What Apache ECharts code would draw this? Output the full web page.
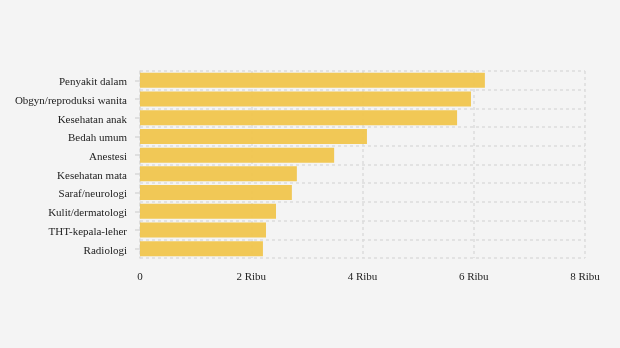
<!DOCTYPE html>
<html>
<head>
<meta charset="utf-8">
<style>
html,body{margin:0;padding:0;background:#f4f4f4;}
#chart{width:620px;height:348px;}
</style>
<script src="https://cdn.jsdelivr.net/npm/echarts@6/dist/echarts.min.js"></script>
</head>
<body>
<div id="chart"></div>
<script>
var categories = ["Penyakit dalam","Obgyn/reproduksi wanita","Kesehatan anak","Bedah umum","Anestesi","Kesehatan mata","Saraf/neurologi","Kulit/dermatologi","THT-kepala-leher","Radiologi"];
var values = [6200, 5950, 5700, 4080, 3490, 2820, 2730, 2445, 2265, 2210];
var xTicks = [0, 2000, 4000, 6000, 8000];

var chart = echarts.init(document.getElementById('chart'));
var grid = {color:'#dcdcdc', width:1.5, type:[3,3]};
chart.setOption({
  backgroundColor:'#f4f4f4',
  animation:false,
  grid:{left:140, right:35, top:71, bottom:90, show:false},
  xAxis:{
    type:'value', min:xTicks[0], max:xTicks[xTicks.length-1], interval:2000,
    axisLine:{show:false}, axisTick:{show:false},
    splitLine:{show:true, lineStyle:grid},
    axisLabel:{margin:14, color:'#222', fontFamily:'Liberation Serif', fontSize:11,
      formatter:function(v){return v===0?'0':(v/1000)+' Ribu';}}
  },
  yAxis:{
    type:'category', data:categories, inverse:true,
    axisLine:{show:true, lineStyle:grid},
    axisTick:{show:true, alignWithLabel:true, length:5, lineStyle:{color:'#d8d8d8', width:1.5}},
    splitLine:{show:true, lineStyle:grid},
    axisLabel:{margin:13, color:'#222', fontFamily:'Liberation Serif', fontSize:11,
      formatter:function(v){return '{a|' + v + '}';},
      rich:{a:{color:'#222', fontFamily:'Liberation Serif', fontSize:11, padding:[4,0,0,0]}}}
  },
  series:[{
    type:'bar', data:values, barCategoryGap:'20%',
    itemStyle:{color:'#f0c54d', opacity:0.95}
  }]
});
</script>
</body>
</html>
